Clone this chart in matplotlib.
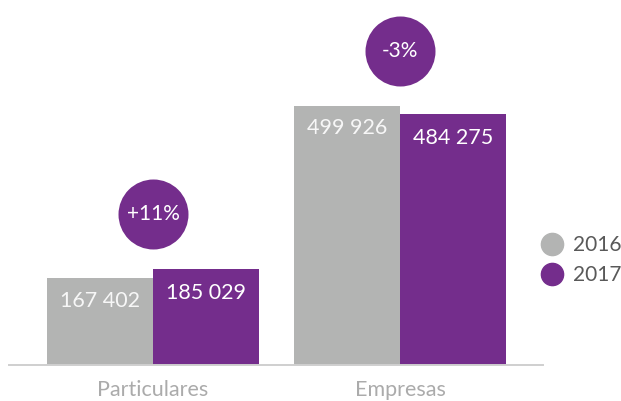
import matplotlib
matplotlib.use("Agg")
import matplotlib.pyplot as plt
from matplotlib.transforms import offset_copy
from matplotlib.lines import Line2D
import numpy as np

categories = ["Particulares", "Empresas"]
years = ["2016", "2017"]
values_2016 = [167402, 499926]
values_2017 = [185029, 484275]

gray = "#B3B4B3"
purple = "#742D8C"

plt.rcParams["font.family"] = ["Lato", "DejaVu Sans"]

fig = plt.figure(figsize=(6.21, 4.01), dpi=100)
W, H = 621, 401
# axes box in pixels: left 9, right 543, baseline 365 from top, top at figure top
ax = fig.add_axes([9 / W, (H - 365) / H, (543 - 9) / W, 365 / H])

x = np.arange(len(categories))
w = 0.43
ax.bar(x - w / 2, values_2016, width=w, color=gray, label=years[0], zorder=1)
ax.bar(x + w / 2, values_2017, width=w, color=purple, label=years[1], zorder=1)

ax.set_xlim((9 - 153) / 247, (543 - 153) / 247)
ax.set_ylim(0, 365 / 5.18e-4)

for s in ["top", "right", "left"]:
    ax.spines[s].set_visible(False)
ax.spines["bottom"].set_color("#CFCFCF")
ax.spines["bottom"].set_linewidth(1.4)
ax.set_yticks([])
ax.set_xticks(x)
ax.set_xticklabels(categories, fontsize=15.5, color="#ABABAB")
ax.tick_params(axis="x", length=0, pad=11)

def fmt(v):
    return f"{v:,}".replace(",", " ")

for xi, v in zip(x - w / 2, values_2016):
    ax.annotate(fmt(v), (xi, v), xytext=(0, -16), textcoords="offset points",
                ha="center", va="center", color="#F7F7F7", fontsize=15.5)
for xi, v in zip(x + w / 2, values_2017):
    ax.annotate(fmt(v), (xi, v), xytext=(0, -17.5), textcoords="offset points",
                ha="center", va="center", color="white", fontsize=15.5)

# change bubbles above each group
bubble_tr = offset_copy(ax.transData, fig=fig, x=0, y=55, units="dots")
for xi, a, b in zip(x, values_2016, values_2017):
    top = max(a, b)
    pct = (b / a - 1) * 100
    ax.scatter([xi], [top], s=(70 * 0.72) ** 2, color=purple, transform=bubble_tr,
               clip_on=False, zorder=3, linewidths=0)
    ax.text(xi, top, f"{pct:+.0f}%", transform=bubble_tr, ha="center", va="center",
            color="white", fontsize=15, zorder=4)

handles = [Line2D([], [], marker="o", linestyle="none", markersize=16,
                  markerfacecolor=c, markeredgecolor=c) for c in (gray, purple)]
leg = fig.legend(handles, years, loc="center left", bbox_to_anchor=(541 / W, 1 - 260 / H),
                 frameon=False, handlelength=1.1, handletextpad=0.45,
                 labelspacing=0.5, borderaxespad=0, borderpad=0,
                 prop={"size": 15})
for t in leg.get_texts():
    t.set_color("#595959")

fig.savefig("out.png", dpi=100)
